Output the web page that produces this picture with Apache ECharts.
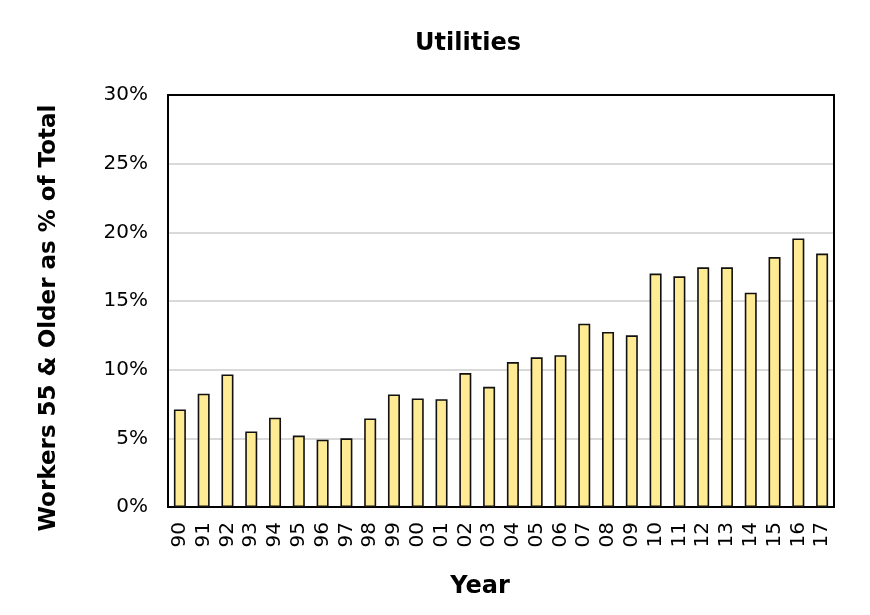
<!DOCTYPE html>
<html lang="en">
<head>
    <meta charset="UTF-8">
    <title>Utilities</title>
    <script src="https://cdn.jsdelivr.net/npm/echarts@6/dist/echarts.min.js"></script>
    <style>
        html, body { margin: 0; padding: 0; background: #fff; }
        #chart { width: 870px; height: 615px; }
    </style>
</head>
<body>
<div id="chart"></div>
<script>
    // data
    var years = ['90', '91', '92', '93', '94', '95', '96', '97', '98', '99',
        '00', '01', '02', '03', '04', '05', '06', '07', '08', '09',
        '10', '11', '12', '13', '14', '15', '16', '17'];
    var shareOlder = [7.1, 8.25, 9.65, 5.5, 6.5, 5.2, 4.9, 5.0, 6.45, 8.2,
        7.9, 7.85, 9.75, 8.75, 10.55, 10.9, 11.05, 13.35, 12.75, 12.5,
        17.0, 16.8, 17.45, 17.45, 15.6, 18.2, 19.55, 18.45];
    var yTicks = [0, 5, 10, 15, 20, 25, 30];

    var font = '"DejaVu Sans", sans-serif';
    var myChart = echarts.init(document.getElementById('chart'));

    // frame line used on all four sides of the plot
    var frame = { show: true, onZero: false, lineStyle: { color: '#000', width: 2 } };

    var option = {
        backgroundColor: '#fff',
        animation: false,
        title: {
            text: 'Utilities',
            left: 463,
            top: 27,
            textAlign: 'center',
            textStyle: { fontFamily: font, fontSize: 24, fontWeight: 'bold', color: '#000' }
        },
        grid: {
            left: 168, right: 36, top: 95, bottom: 108,
            containLabel: false
        },
        xAxis: [
            {
                type: 'category',
                data: years,
                axisLine: frame,
                axisTick: { show: false },
                axisLabel: {
                    interval: 0, rotate: 90, margin: 15, color: '#000',
                    fontFamily: font, fontSize: 20, fontWeight: 500,
                    hideOverlap: false
                }
            },
            {
                type: 'category',
                position: 'top',
                data: years,
                axisLine: frame,
                axisTick: { show: false },
                axisLabel: { show: false }
            }
        ],
        yAxis: [
            {
                type: 'value',
                min: yTicks[0],
                max: yTicks[yTicks.length - 1],
                interval: 5,
                axisLine: frame,
                axisTick: { show: false },
                splitLine: { showMaxLine: false, showMinLine: false, lineStyle: { color: '#d9d9d9', width: 2 } },
                axisLabel: {
                    margin: 20, color: '#000',
                    fontFamily: font, fontSize: 20,
                    formatter: '{value}%'
                }
            },
            {
                type: 'value',
                position: 'right',
                min: yTicks[0],
                max: yTicks[yTicks.length - 1],
                interval: 5,
                axisLine: frame,
                axisTick: { show: false },
                splitLine: { show: false },
                axisLabel: { show: false }
            }
        ],
        graphic: [
            {
                type: 'text',
                x: 480, y: 587,
                style: {
                    text: 'Year', fill: '#000',
                    font: 'bold 24px ' + font,
                    align: 'center', verticalAlign: 'middle'
                }
            },
            {
                type: 'text',
                x: 49, y: 318,
                rotation: Math.PI / 2,
                style: {
                    text: 'Workers 55 & Older as % of Total', fill: '#000',
                    font: 'bold 23px ' + font,
                    align: 'center', verticalAlign: 'middle'
                }
            }
        ],
        series: [
            {
                name: 'Workers 55 & Older',
                type: 'bar',
                data: shareOlder,
                barWidth: 12,
                itemStyle: {
                    color: '#ffeb94',
                    borderColor: '#111',
                    borderWidth: 1.6
                }
            }
        ]
    };

    myChart.setOption(option);
</script>
</body>
</html>
